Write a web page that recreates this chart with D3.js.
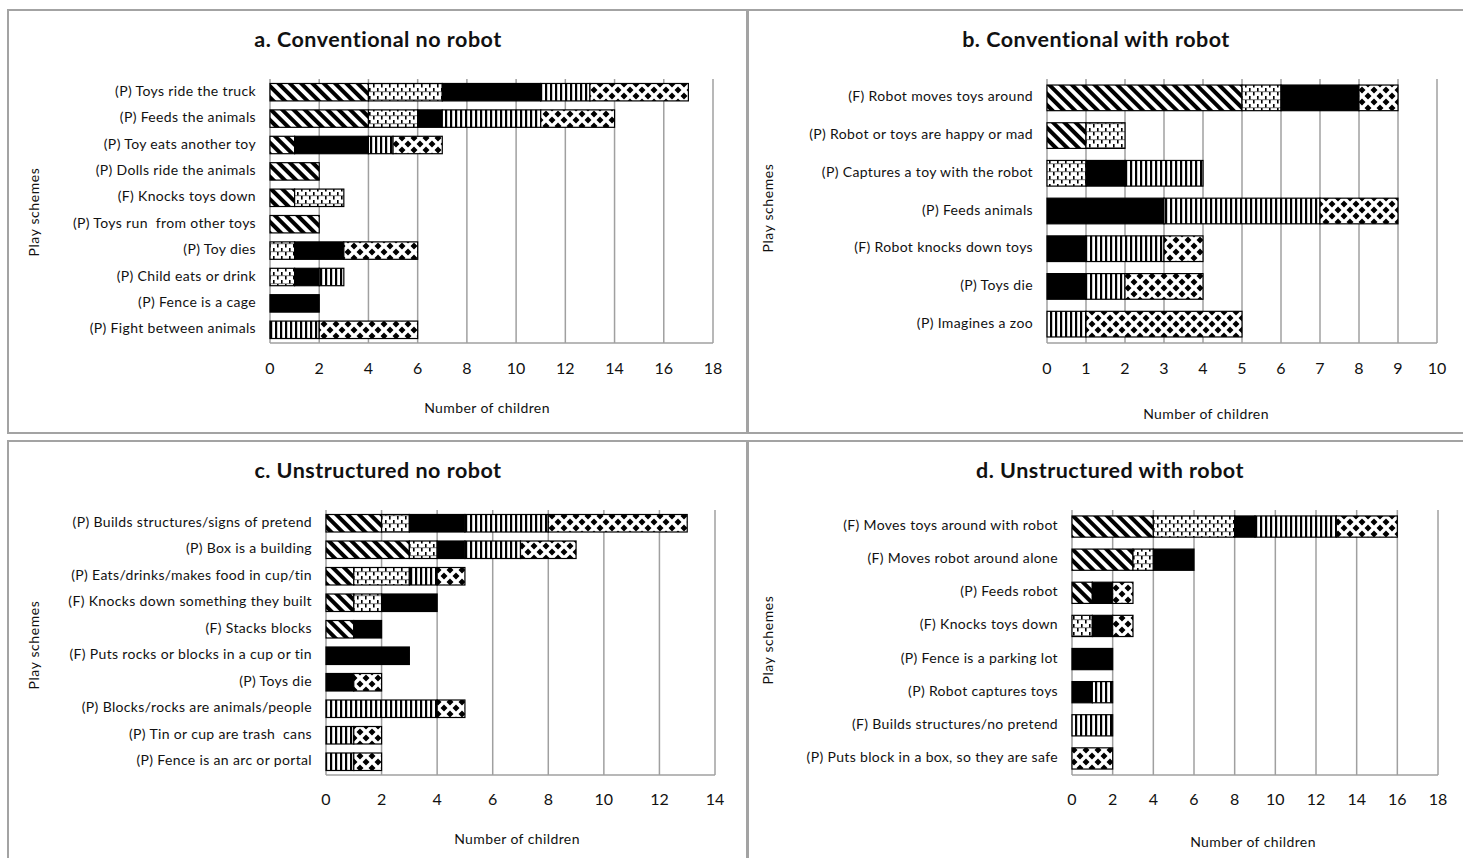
<!DOCTYPE html>
<html>
<head>
<meta charset="utf-8">
<script src="https://cdn.jsdelivr.net/npm/d3@7"></script>
<style>
  body { margin: 0; background: #fff; }
  text { font-family: Lato, "Open Sans", sans-serif; fill: #111; }
</style>
</head>
<body>
<div id="chart"></div>
<script>
// Panel a. Conventional no robot
const catsA = ["(P) Toys ride the truck", "(P) Feeds the animals", "(P) Toy eats another toy", "(P) Dolls ride the animals",
  "(F) Knocks toys down", "(P) Toys run  from other toys", "(P) Toy dies", "(P) Child eats or drink",
  "(P) Fence is a cage", "(P) Fight between animals"];
const diagA    = [4, 4, 1, 2, 1, 2, 0, 0, 0, 0];
const brickA   = [3, 2, 0, 0, 2, 0, 1, 1, 0, 0];
const solidA   = [4, 1, 3, 0, 0, 0, 2, 1, 2, 0];
const vertA    = [2, 4, 1, 0, 0, 0, 0, 1, 0, 2];
const diamondA = [4, 3, 2, 0, 0, 0, 3, 0, 0, 4];

// Panel b. Conventional with robot
const catsB = ["(F) Robot moves toys around", "(P) Robot or toys are happy or mad", "(P) Captures a toy with the robot",
  "(P) Feeds animals", "(F) Robot knocks down toys", "(P) Toys die", "(P) Imagines a zoo"];
const diagB    = [5, 1, 0, 0, 0, 0, 0];
const brickB   = [1, 1, 1, 0, 0, 0, 0];
const solidB   = [2, 0, 1, 3, 1, 1, 0];
const vertB    = [0, 0, 2, 4, 2, 1, 1];
const diamondB = [1, 0, 0, 2, 1, 2, 4];

// Panel c. Unstructured no robot
const catsC = ["(P) Builds structures/signs of pretend", "(P) Box is a building", "(P) Eats/drinks/makes food in cup/tin",
  "(F) Knocks down something they built", "(F) Stacks blocks", "(F) Puts rocks or blocks in a cup or tin",
  "(P) Toys die", "(P) Blocks/rocks are animals/people", "(P) Tin or cup are trash  cans", "(P) Fence is an arc or portal"];
const diagC    = [2, 3, 1, 1, 1, 0, 0, 0, 0, 0];
const brickC   = [1, 1, 2, 1, 0, 0, 0, 0, 0, 0];
const solidC   = [2, 1, 0, 2, 1, 3, 1, 0, 0, 0];
const vertC    = [3, 2, 1, 0, 0, 0, 0, 4, 1, 1];
const diamondC = [5, 2, 1, 0, 0, 0, 1, 1, 1, 1];

// Panel d. Unstructured with robot
const catsD = ["(F) Moves toys around with robot", "(F) Moves robot around alone", "(P) Feeds robot", "(F) Knocks toys down",
  "(P) Fence is a parking lot", "(P) Robot captures toys", "(F) Builds structures/no pretend", "(P) Puts block in a box, so they are safe"];
const diagD    = [4, 3, 1, 0, 0, 0, 0, 0];
const brickD   = [4, 1, 0, 1, 0, 0, 0, 0];
const solidD   = [1, 2, 1, 1, 2, 1, 0, 0];
const vertD    = [4, 0, 0, 0, 0, 1, 2, 0];
const diamondD = [3, 0, 1, 1, 0, 0, 0, 2];

const titles = ["a. Conventional no robot", "b. Conventional with robot", "c. Unstructured no robot", "d. Unstructured with robot"];
const xMax = [18, 10, 14, 18];
const xStep = [2, 1, 2, 2];
const xTitle = "Number of children";
const yTitle = "Play schemes";
const seriesKeys = ["diag", "brick", "solid", "vert", "diamond"];

const width = 1463, height = 858;
const svg = d3.select("#chart").append("svg")
  .attr("width", width).attr("height", height);

// fill patterns
const defs = svg.append("defs");
const pDiag = defs.append("pattern").attr("id", "diag").attr("patternUnits", "userSpaceOnUse")
  .attr("width", 8).attr("height", 8).attr("patternTransform", "rotate(-45)");
pDiag.append("rect").attr("width", 8).attr("height", 8).attr("fill", "#fff");
pDiag.append("rect").attr("width", 4).attr("height", 8).attr("fill", "#000");

const pBrick = defs.append("pattern").attr("id", "brick").attr("patternUnits", "userSpaceOnUse")
  .attr("width", 8).attr("height", 8);
pBrick.append("rect").attr("width", 8).attr("height", 8).attr("fill", "#fff");
pBrick.append("rect").attr("x", 1).attr("y", 0).attr("width", 1.6).attr("height", 3.5).attr("fill", "#000");
pBrick.append("rect").attr("x", 5).attr("y", 4).attr("width", 1.6).attr("height", 3.5).attr("fill", "#000");
pBrick.append("rect").attr("x", 0).attr("y", 3.6).attr("width", 8).attr("height", 0.5).attr("fill", "#000");

const pVert = defs.append("pattern").attr("id", "vert").attr("patternUnits", "userSpaceOnUse")
  .attr("width", 5).attr("height", 5);
pVert.append("rect").attr("width", 5).attr("height", 5).attr("fill", "#fff");
pVert.append("rect").attr("width", 2.2).attr("height", 5).attr("fill", "#000");

const pDia = defs.append("pattern").attr("id", "diamond").attr("patternUnits", "userSpaceOnUse")
  .attr("width", 12).attr("height", 12);
pDia.append("rect").attr("width", 12).attr("height", 12).attr("fill", "#fff");
pDia.append("path").attr("fill", "#000")
  .attr("d", "M6,2.5L9.5,6L6,9.5L2.5,6Z M0,-3.5L3.5,0L0,3.5L-3.5,0Z M12,-3.5L15.5,0L12,3.5L8.5,0Z M0,8.5L3.5,12L0,15.5L-3.5,12Z M12,8.5L15.5,12L12,15.5L8.5,12Z");

const fills = { diag: "url(#diag)", brick: "url(#brick)", solid: "#000", vert: "url(#vert)", diamond: "url(#diamond)" };

// panel frames
const frames = [[8, 10, 739, 423], [748, 10, 725, 423], [8, 441, 739, 430], [748, 441, 725, 430]];
svg.selectAll("rect.frame").data(frames).enter().append("rect")
  .attr("class", "frame")
  .attr("x", d => d[0]).attr("y", d => d[1]).attr("width", d => d[2]).attr("height", d => d[3])
  .attr("fill", "none").attr("stroke", "#a3a3a3").attr("stroke-width", 2);

// layout per panel
const layout = [
  { x0: 270, x1: 713, y0: 79, y1: 343, titleX: 378, titleY: 41, tickY: 370, axX: 487, axY: 409, ytX: 35, ytY: 212, pad: 0.34 },
  { x0: 1047, x1: 1437, y0: 79, y1: 343, titleX: 1096, titleY: 41, tickY: 370, axX: 1206, axY: 415, ytX: 769, ytY: 208, pad: 0.32 },
  { x0: 326, x1: 715, y0: 510, y1: 775, titleX: 378, titleY: 472, tickY: 801, axX: 517, axY: 840, ytX: 35, ytY: 645, pad: 0.34 },
  { x0: 1072, x1: 1438, y0: 510, y1: 775, titleX: 1110, titleY: 472, tickY: 801, axX: 1253, axY: 843, ytX: 769, ytY: 640, pad: 0.36 }
];

const panelData = [
  [catsA, [diagA, brickA, solidA, vertA, diamondA]],
  [catsB, [diagB, brickB, solidB, vertB, diamondB]],
  [catsC, [diagC, brickC, solidC, vertC, diamondC]],
  [catsD, [diagD, brickD, solidD, vertD, diamondD]]
];

panelData.forEach(([cats, series], i) => {
  const L = layout[i];
  const g = svg.append("g");

  const rows = cats.map((c, j) => {
    const r = { cat: c };
    seriesKeys.forEach((k, s) => r[k] = series[s][j]);
    return r;
  });
  const stacked = d3.stack().keys(seriesKeys)(rows);

  const x = d3.scaleLinear().domain([0, xMax[i]]).range([L.x0, L.x1]);
  const y = d3.scaleBand().domain(cats).range([L.y0, L.y1]).paddingInner(L.pad).paddingOuter(L.pad / 2);

  // gridlines
  const ticks = d3.range(0, xMax[i] + 0.001, xStep[i]);
  g.selectAll("line.grid").data(ticks).enter().append("line")
    .attr("x1", d => x(d)).attr("x2", d => x(d))
    .attr("y1", L.y0).attr("y2", L.y1)
    .attr("stroke", "#a0a0a0").attr("stroke-width", 1.5);
  g.append("line").attr("x1", L.x0).attr("x2", L.x1).attr("y1", L.y1).attr("y2", L.y1)
    .attr("stroke", "#a0a0a0").attr("stroke-width", 1.5);

  // bars
  g.selectAll("g.series").data(stacked).enter().append("g")
    .attr("fill", d => fills[d.key])
    .selectAll("rect").data(d => d.filter(v => v[1] > v[0]).map(v => Object.assign(v, { cat: v.data.cat })))
    .enter().append("rect")
    .attr("x", d => x(d[0])).attr("width", d => x(d[1]) - x(d[0]))
    .attr("y", d => y(d.cat)).attr("height", y.bandwidth())
    .attr("stroke", "#000").attr("stroke-width", 1.2);

  // category labels
  g.selectAll("text.cat").data(cats).enter().append("text")
    .attr("x", L.x0 - 14).attr("y", d => y(d) + y.bandwidth() / 2)
    .attr("text-anchor", "end").attr("dominant-baseline", "middle")
    .style("font-size", "14px").style("letter-spacing", "0.35px").style("white-space", "pre")
    .text(d => d);

  // tick labels
  g.selectAll("text.tick").data(ticks).enter().append("text")
    .attr("x", d => x(d)).attr("y", L.tickY)
    .attr("text-anchor", "middle").attr("dominant-baseline", "middle")
    .style("font-size", "16px")
    .text(d => d);

  // titles
  g.append("text").attr("x", L.titleX).attr("y", L.titleY)
    .attr("text-anchor", "middle").attr("dominant-baseline", "middle")
    .style("font-size", "21.5px").style("font-weight", "bold").style("letter-spacing", "0.5px")
    .text(titles[i]);
  g.append("text").attr("x", L.axX).attr("y", L.axY)
    .attr("text-anchor", "middle").attr("dominant-baseline", "middle")
    .style("font-size", "14px").style("letter-spacing", "0.4px")
    .text(xTitle);
  g.append("text")
    .attr("transform", `translate(${L.ytX},${L.ytY}) rotate(-90)`)
    .attr("text-anchor", "middle").attr("dominant-baseline", "middle")
    .style("font-size", "14px").style("letter-spacing", "0.6px").style("white-space", "pre")
    .text(yTitle);
});
</script>
</body>
</html>
